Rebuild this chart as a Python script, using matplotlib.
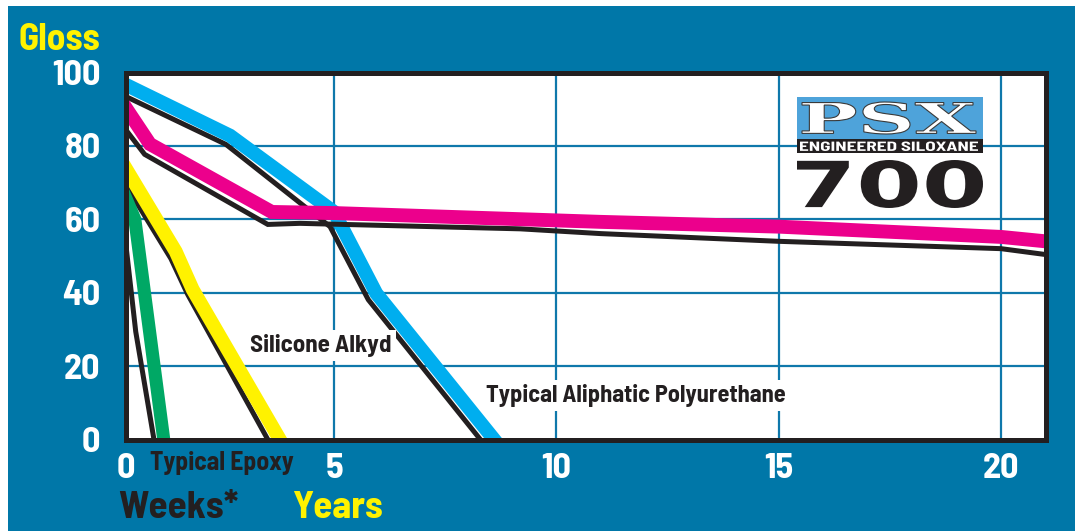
import matplotlib
matplotlib.use("Agg")
import matplotlib.pyplot as plt
import matplotlib.transforms as mtransforms
from matplotlib import font_manager
from matplotlib.font_manager import FontProperties
from matplotlib.textpath import TextPath
from matplotlib.patches import PathPatch, Rectangle

# ---- data (x in years, left edge = week 0) ----
x_left = 0.31

pu_x = [x_left, 2.66, 5.0, 5.95, 8.6]          # Typical Aliphatic Polyurethane
pu_y = [96.7, 82.8, 62.0, 39.8, 0.0]
pu_edge_x = [x_left, 2.57, 4.91, 5.77, 8.29]
pu_edge_y = [93.5, 80.4, 58.0, 38.1, 0.0]

psx_x = [x_left, 0.86, 3.6, 5.0, 11.0, 15.0, 20.0, 21.0]   # PSX 700
psx_y = [90.5, 80.5, 62.0, 61.7, 59.3, 58.0, 55.2, 54.0]
psx_edge_x = [x_left, 0.74, 3.51, 4.23, 9.19, 11.0, 15.0, 20.0, 21.0]
psx_edge_y = [84.5, 77.7, 58.6, 58.9, 57.4, 56.1, 54.0, 52.0, 50.4]

alk_x = [x_left, 1.44, 1.82, 3.78]              # Silicone Alkyd
alk_y = [74.0, 51.2, 40.9, 0.0]
alk_edge_x = [x_left, 1.33, 1.71, 3.51]
alk_edge_y = [69.5, 49.3, 39.5, 0.0]

epx_x = [x_left, 0.52, 1.17]                    # Typical Epoxy
epx_y = [66.0, 60.0, 0.0]
epx_edge_x = [x_left, 0.54, 0.95]
epx_edge_y = [54.0, 29.4, 0.0]

xtick_pos = [x_left, 5, 10, 15, 20]
xtick_lab = ['0', '5', '10', '15', '20']
ytick_pos = [0, 20, 40, 60, 80, 100]

BG = '#0077a8'
INK = '#231f20'
CYAN = '#00aeef'
MAGENTA = '#ec008c'
YELLOW = '#fff200'
GREEN = '#00a865'

names = {f.name for f in font_manager.fontManager.ttflist}
COND = 'Barlow Semi Condensed' if 'Barlow Semi Condensed' in names else 'DejaVu Sans'

plt.rcParams['font.family'] = [COND, 'DejaVu Sans']
plt.rcParams['font.weight'] = 'bold'

fig = plt.figure(figsize=(10.75, 5.31), dpi=100, facecolor='white')
H = 531

# blue panel (thin white strip on top and left)
fig.add_artist(Rectangle((8 / 1075, 0), 1, 1 - 6 / 531, transform=fig.transFigure,
                         facecolor=BG, edgecolor='none', zorder=-10))

ax = fig.add_axes([125.5 / 1075, 1 - 439.5 / 531, 920 / 1075, 367 / 531])
ax.set_facecolor('white')
ax.set_xlim(x_left, 21.0)
ax.set_ylim(0, 100)
ax.set_xticks(xtick_pos)
ax.set_xticklabels(xtick_lab)
ax.set_yticks(ytick_pos)
ax.tick_params(length=0, labelsize=26, labelcolor='white')
ax.tick_params(axis='x', pad=10)
ax.tick_params(axis='y', pad=18)
ax.grid(True, color='#0f78ab', lw=1.6)
ax.set_axisbelow(True)
for sp in ax.spines.values():
    sp.set_linewidth(3.6)
    sp.set_color(INK)


def ribbon(x, y, ex, ey, color, lw=10):
    ax.plot(ex, ey, color=INK, lw=3.6, solid_capstyle='projecting', solid_joinstyle='miter')
    ax.plot(x, y, color=color, lw=lw, solid_capstyle='projecting', solid_joinstyle='miter')


ribbon(pu_x, pu_y, pu_edge_x, pu_edge_y, CYAN)
ribbon(psx_x, psx_y, psx_edge_x, psx_edge_y, MAGENTA)
ribbon(alk_x, alk_y, alk_edge_x, alk_edge_y, YELLOW)
ribbon(epx_x, epx_y, epx_edge_x, epx_edge_y, GREEN, lw=9.4)

box = dict(facecolor='white', edgecolor='none', pad=3)
ax.text(3.11, 23.8, 'Silicone Alkyd', fontsize=18, color=INK, ha='left', va='baseline', bbox=box)
ax.text(8.42, 10.2, 'Typical Aliphatic Polyurethane', fontsize=17.5, color=INK,
        ha='left', va='baseline', bbox=box)

# labels around the axes
fig.text(100 / 1075, 1 - 50 / H, 'Gloss', fontsize=27, color=YELLOW, ha='right', va='baseline')
fig.text(150 / 1075, 1 - 470 / H, 'Typical Epoxy', fontsize=18.5, color=INK, ha='left', va='baseline')
fig.text(118 / 1075, 1 - 518 / H, 'Weeks*', fontsize=28, color=INK, ha='left', va='baseline')
fig.text(293 / 1075, 1 - 518 / H, 'Years', fontsize=28, color=YELLOW, ha='left', va='baseline')


# ---- PSX 700 logo ----
def fit_text(s, prop, x0, y0, x1, y1, **kw):
    tp = TextPath((0, 0), s, size=10, prop=prop)
    ext = tp.get_extents()
    tr = (mtransforms.Affine2D().translate(-ext.x0, -ext.y0)
          .scale((x1 - x0) / ext.width, (y1 - y0) / ext.height)
          .translate(x0, H - y1))
    fig.add_artist(PathPatch(tr.transform_path(tp), transform=mtransforms.IdentityTransform(),
                             zorder=5, **kw))


def px_rect(x0, y0, x1, y1, color):
    fig.add_artist(Rectangle((x0, H - y1), x1 - x0, y1 - y0, transform=mtransforms.IdentityTransform(),
                             facecolor=color, edgecolor='none', zorder=4))


px_rect(797, 97, 983, 139, '#4ea3da')
px_rect(797, 139, 983, 153, INK)
fit_text('PSX', FontProperties(family='DejaVu Serif', weight='bold'), 802, 102, 976, 134,
         facecolor='white', edgecolor='#3a3a3a', lw=0.8)
fit_text('ENGINEERED SILOXANE', FontProperties(family=COND, weight='bold'), 800, 141.5, 978, 151,
         facecolor='white', edgecolor='none')
fit_text('700', FontProperties(family='DejaVu Sans', weight='bold'), 797, 160, 983, 208,
         facecolor=INK, edgecolor='none')

fig.savefig('out.png', dpi=100, facecolor=fig.get_facecolor())
